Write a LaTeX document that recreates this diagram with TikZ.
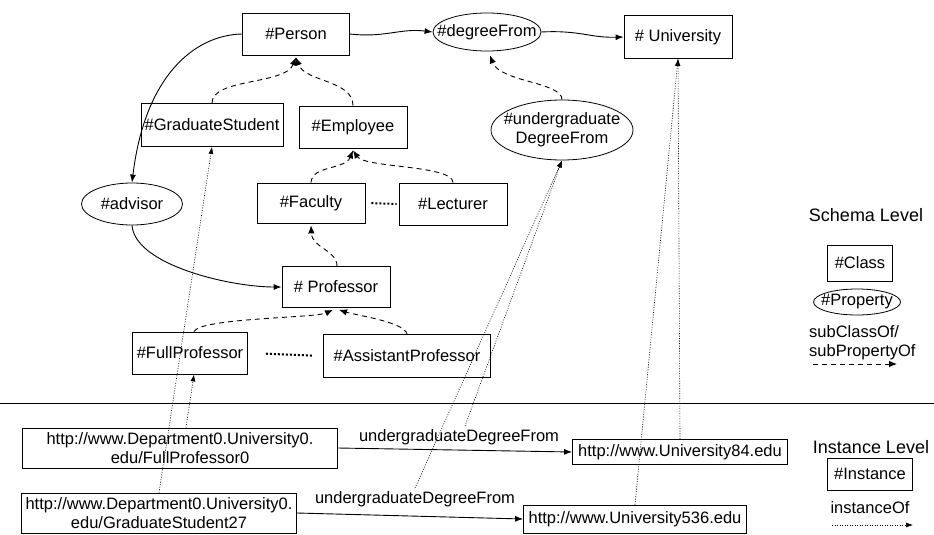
\documentclass[tikz,border=0pt]{standalone}
\usepackage{fontspec}
\setmainfont{Liberation Sans}
\usetikzlibrary{shapes.geometric,arrows.meta}
\newcommand\zwbox[1]{\makebox[0pt]{#1}}
\begin{document}
\begin{tikzpicture}[x=1pt,y=-1pt,
  every node/.style={font=\fontsize{16.5}{19}\selectfont, inner sep=0pt},
  cls/.style={draw, line width=0.8pt, rectangle, minimum width=#1},
  prop/.style={draw, line width=0.8pt, ellipse, minimum width=#1},
  lvl/.style={font=\fontsize{18}{21}\selectfont},
  solidarr/.style={line width=0.9pt, -{Latex[length=8pt,width=6pt]}},
  dasharr/.style={line width=0.9pt, dash pattern=on 5pt off 4pt, -{Latex[length=8pt,width=6.5pt]}},
  instarr/.style={line width=0.6pt, dash pattern=on 1pt off 1.5pt, -{Latex[length=7pt,width=5pt]}},
  samelvl/.style={line width=2pt, dash pattern=on 2pt off 2pt}
]
\useasboundingbox (0,0) rectangle (934,535);

% schema level nodes
\node[cls=107, minimum height=42] (person) at (296,34) {\#Person};
\node[prop=108, minimum height=38] (degree) at (487,32) {\zwbox{\#degreeFrom}};
\node[cls=108, minimum height=43] (univ) at (678,37) {\# University};
\node[cls=142, minimum height=43] (gs) at (212,125) {\#GraduateStudent};
\node[cls=108, minimum height=42] (emp) at (353,127) {\#Employee};
\node[prop=142, minimum height=60] (ugdf) at (562,130) {\zwbox{\begin{tabular}{c}\#undergraduate\\DegreeFrom\end{tabular}}};
\node[prop=101, minimum height=42] (advisor) at (132,204) {\#advisor};
\node[cls=108, minimum height=40] (fac) at (311,203) {\#Faculty};
\node[cls=108, minimum height=42] (lect) at (453,204) {\#Lecturer};
\node[cls=108, minimum height=41] (prof) at (336,287) {\# Professor};
\node[cls=115, minimum height=42] (fp) at (190,353) {\#FullProfessor};
\node[cls=167, minimum height=43] (ap) at (407,356) {\#AssistantProfessor};

% instance level nodes
\node[cls=315, minimum height=40, align=center] (fp0) at (180,448) {http://www.Department0.University0.\\edu/FullProfessor0};
\node[cls=275, minimum height=40, align=center] (gs27) at (159,513) {http://www.Department0.University0.\\edu/GraduateStudent27};
\node[cls=215, minimum height=25] (u84) at (680,452) {http://www.University84.edu};
\node[cls=223, minimum height=28] (u536) at (635,519) {http://www.University536.edu};
\node (lbl1) at (459,437) {undergraduateDegreeFrom};
\node (lbl2) at (415,499) {undergraduateDegreeFrom};

% legend
\node[lvl] (schema) at (866,215) {Schema Level};
\node[cls=65, minimum height=36] (lclass) at (860,263) {\#Class};
\node[prop=87, minimum height=26] (lprop) at (857,302) {\zwbox{\#Property}};
\node[anchor=west, align=left] (lsub) at (809,343) {subClassOf/\\subPropertyOf};
\coordinate (ld1) at (813,364);
\coordinate (ld2) at (897,364);
\draw[dasharr] (ld1) -- (ld2);
\node[lvl] (inst) at (871,447) {Instance Level};
\node[cls=85, minimum height=32] (linst) at (870,474) {\#Instance};
\node (linstof) at (870,508) {instanceOf};
\coordinate (li1) at (832,525);
\coordinate (li2) at (913,525);
\draw[instarr] (li1) -- (li2);

% divider
\coordinate (dl) at (0,403);
\coordinate (dr) at (934,403);
\draw[line width=0.9pt] (dl) -- (dr);

% solid property edges
\draw[solidarr] (person.east) .. controls (385,38) and (400,28) .. (degree.west);
\draw[solidarr] (degree.east) .. controls (580,30) and (590,38) .. (univ.west);
\draw[solidarr] (person.west) .. controls (195,35) and (145,75) .. (advisor.north);
\draw[solidarr] (advisor.south) .. controls (135,265) and (230,287) .. (prof.west);
\draw[solidarr] (fp0.east) -- (u84.west);
\draw[solidarr] (gs27.east) -- (u536.west);

% subclass / subproperty
\draw[dasharr] (gs.north) .. controls (212,78) and (285,85) .. ([yshift=-2pt]person.south);
\draw[dasharr] (emp.north) .. controls (353,80) and (305,82) .. ([yshift=-2pt]person.south);
\draw[dasharr] (fac.north) .. controls (312,165) and (345,170) .. ([yshift=-2pt]emp.south);
\draw[dasharr] (lect.north) .. controls (453,165) and (365,168) .. ([yshift=-2pt]emp.south);
\draw[dasharr] ([xshift=1pt]prof.north) .. controls (337,250) and (312,248) .. ([yshift=-2pt]fac.south);
\draw[dasharr] ([xshift=4pt]fp.north) .. controls (200,318) and (315,318) .. ([xshift=-3pt,yshift=-2pt]prof.south);
\draw[dasharr] (ap.north) .. controls (405,322) and (355,315) .. ([xshift=3pt,yshift=-2pt]prof.south);
\draw[dasharr] (ugdf.north) .. controls (562,82) and (500,82) .. ([xshift=3pt,yshift=-4pt]degree.south);

% same level
\draw[samelvl, shorten <=6pt, shorten >=2pt] (fac.east) -- (lect.west);
\draw[samelvl, shorten <=18pt, shorten >=11pt] (fp.east) -- (ap.west);

% instanceOf
\draw[instarr] (gs27.north) -- (gs.south);
\draw[instarr] ([xshift=6pt]fp0.north) -- ([xshift=4pt]fp.south);
\draw[instarr] ([xshift=6pt,yshift=3pt]lbl1.north) -- (ugdf.south);
\draw[instarr] ([yshift=3pt]lbl2.north) -- (ugdf.south);
\draw[instarr] (u84.north) -- (univ.south);
\draw[instarr] (u536.north) -- (univ.south);
\end{tikzpicture}
\end{document}
